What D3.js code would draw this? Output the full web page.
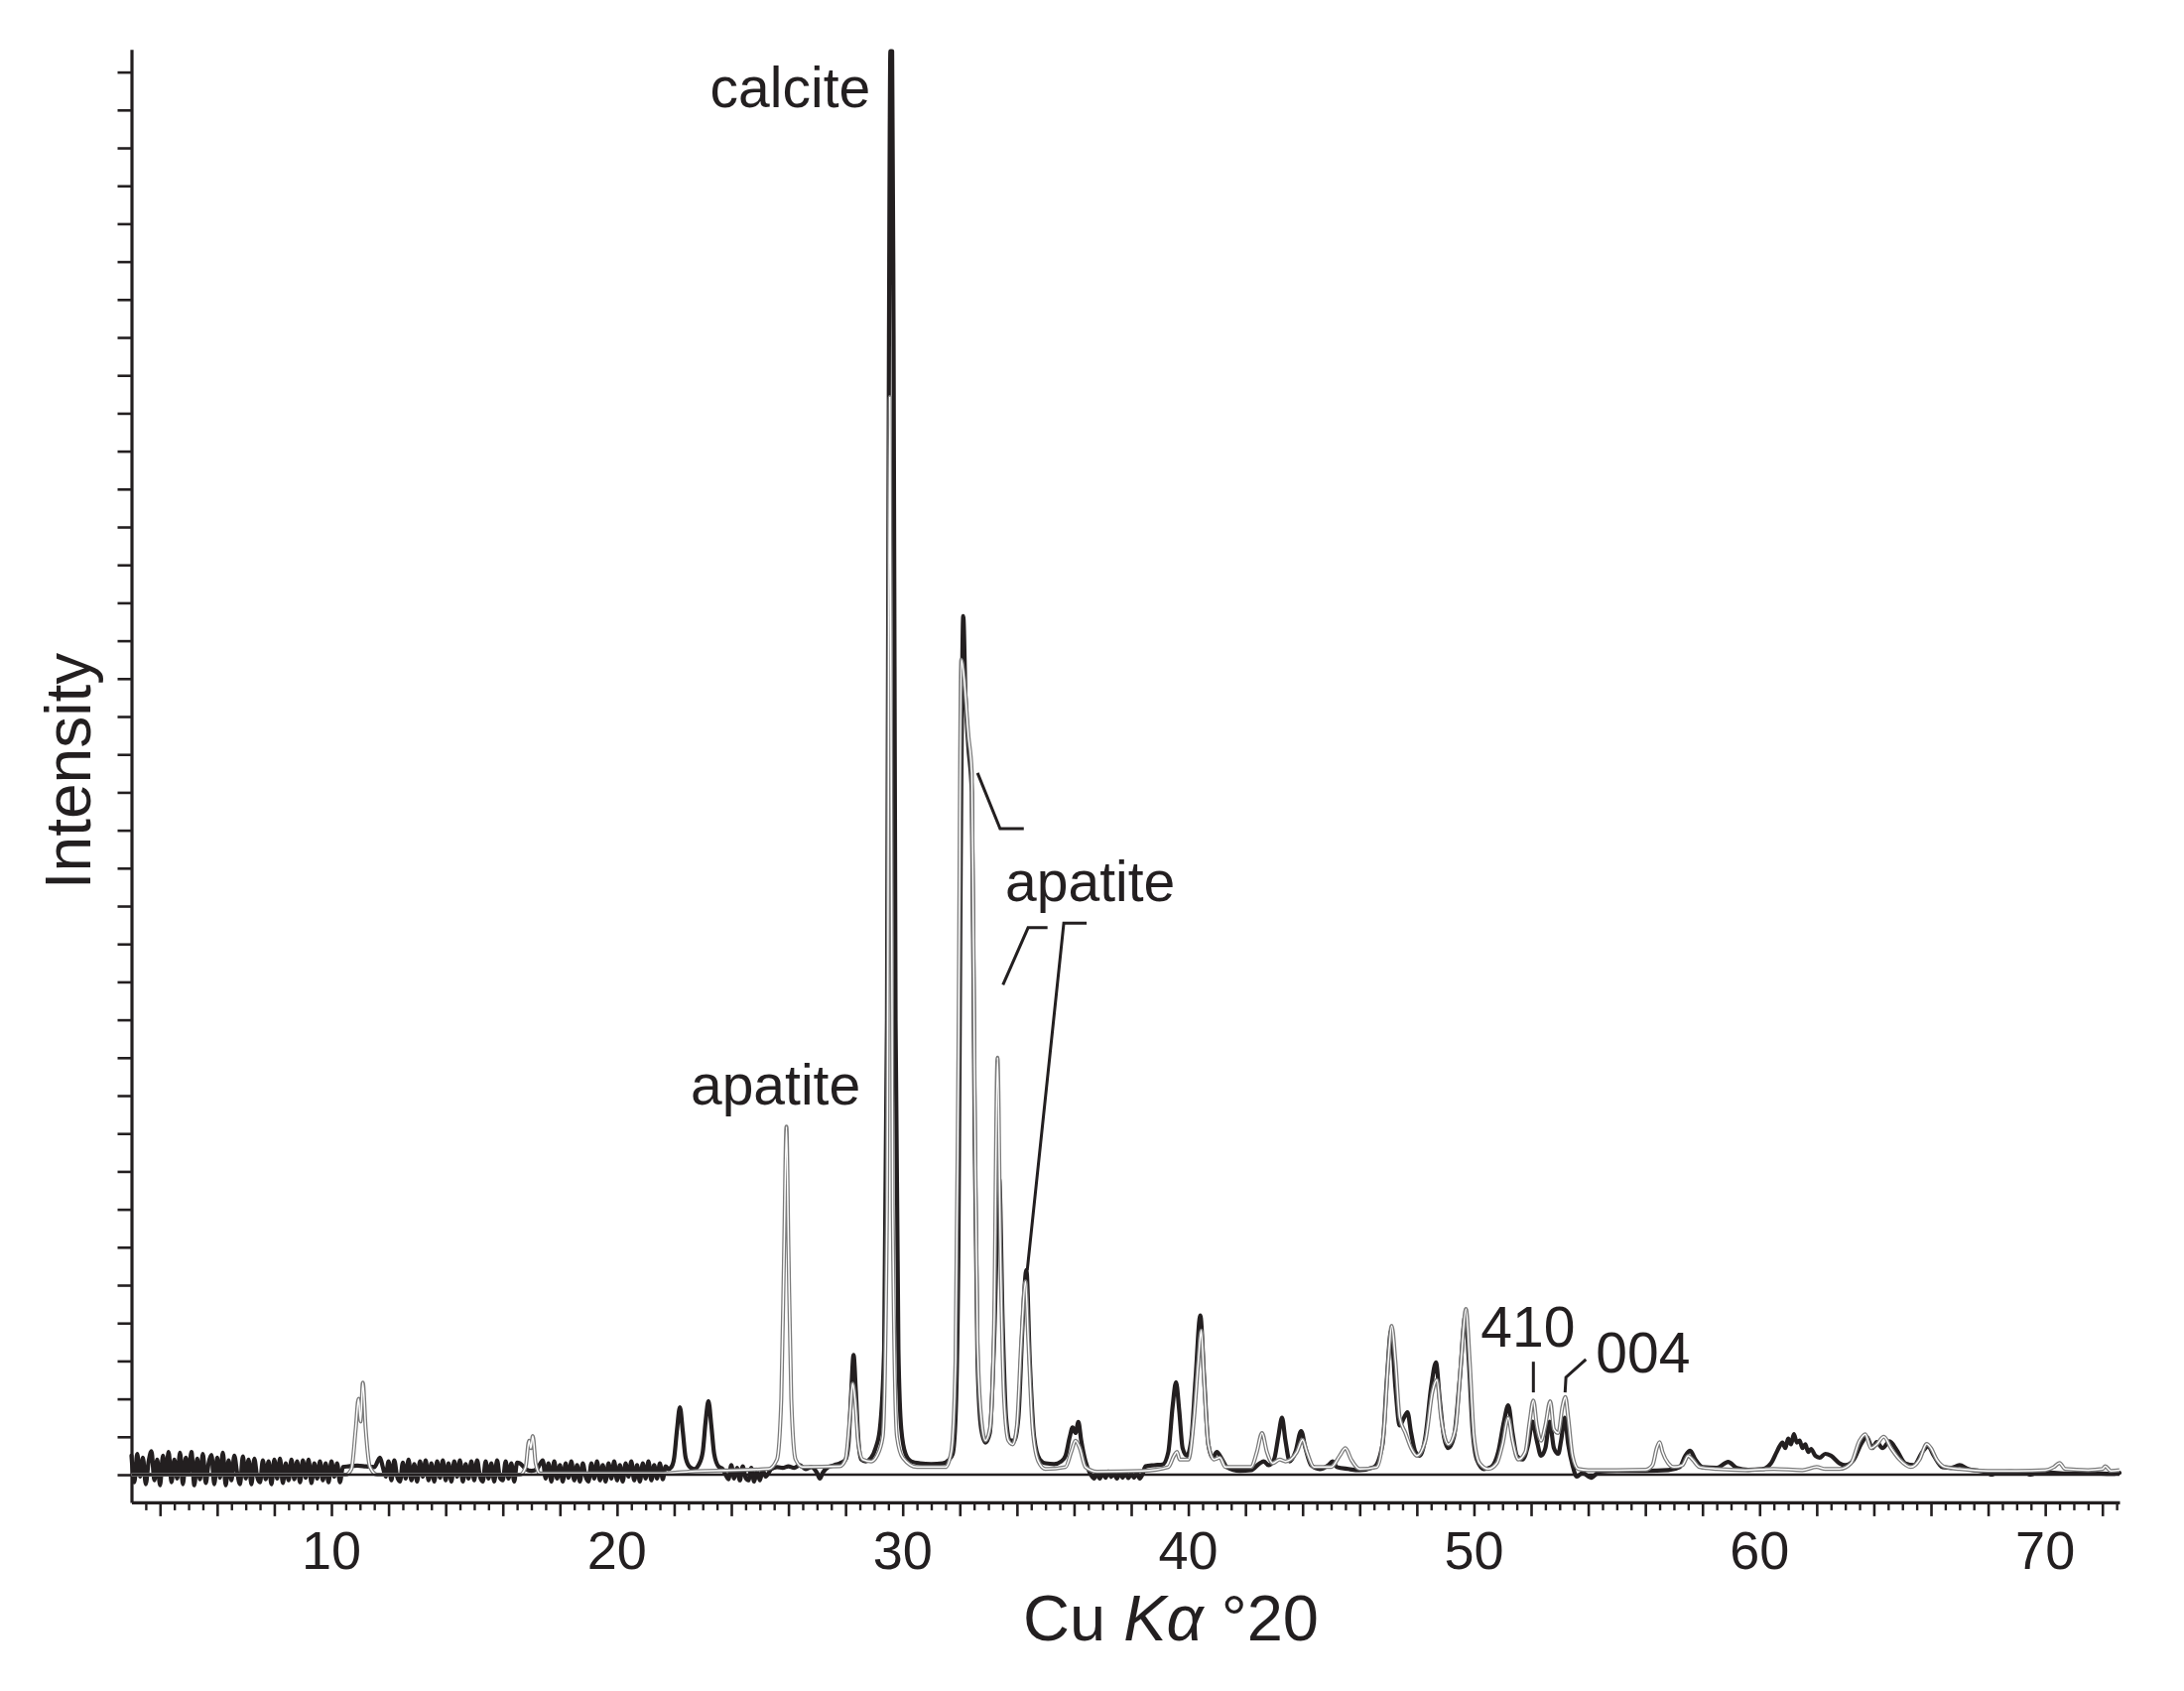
<!DOCTYPE html>
<html>
<head>
<meta charset="utf-8">
<script src="https://cdn.jsdelivr.net/npm/d3@7/dist/d3.min.js"></script>
<style>
  html, body { margin: 0; padding: 0; background: #ffffff; }
  svg { display: block; }
  text { font-family: "Liberation Sans", Arial, Helvetica, sans-serif; fill: #231f20; }
</style>
</head>
<body>
<svg id="chart" width="2201" height="1704"></svg>
<script>
// ---------------- DATA ----------------
// x: Cu Kα °2θ, y: intensity (counts, one left-axis tick = 100)
const xTickLabels = [10, 20, 30, 40, 50, 60, 70];

// thick black pattern
const blackPattern = [
[3.0,50],[3.1,-20],[3.2,55],[3.3,-5],[3.4,45],[3.5,-25],[3.6,35],[3.7,62],[3.8,-15],[3.9,40],
[4.0,-28],[4.1,50],[4.2,0],[4.3,60],[4.4,-20],[4.5,40],[4.6,-10],[4.7,58],[4.8,-25],[4.9,45],
[5.0,5],[5.1,60],[5.2,-28],[5.3,42],[5.4,-12],[5.5,55],[5.6,-22],[5.7,30],[5.8,52],[5.9,-25],
[6.0,45],[6.1,-8],[6.2,58],[6.3,-28],[6.4,38],[6.5,-15],[6.6,50],[6.7,5],[6.8,-25],[6.9,48],
[7.0,-10],[7.1,40],[7.2,-25],[7.3,42],[7.4,-5],[7.5,-20],[7.6,38],[7.7,-12],[7.8,35],[7.9,-25],
[8.0,40],[8.1,-10],[8.2,42],[8.3,-22],[8.4,30],[8.5,-15],[8.6,40],[8.7,-12],[8.8,35],[8.9,-20],
[9.0,38],[9.1,-8],[9.2,40],[9.3,-22],[9.4,30],[9.5,-10],[9.6,35],[9.7,-15],[9.8,30],[9.9,-20],
[10.0,35],[10.1,-5],[10.2,30],[10.3,-20],[10.4,20],[10.6,22],[10.9,24],[11.2,22],[11.5,20],
[11.7,45],[11.8,20],[11.9,-5],
[12.0,35],[12.1,-15],[12.2,38],[12.3,-5],[12.4,-18],[12.5,32],[12.6,-10],[12.7,40],[12.8,-15],[12.9,28],
[13.0,-18],[13.1,35],[13.2,-5],[13.3,38],[13.4,-15],[13.5,30],[13.6,-18],[13.7,35],[13.8,-8],[13.9,38],
[14.0,-15],[14.1,30],[14.2,-18],[14.3,35],[14.4,-5],[14.5,38],[14.6,-18],[14.7,28],[14.8,-10],[14.9,35],
[15.0,-15],[15.1,38],[15.2,-5],[15.3,-18],[15.4,35],[15.5,-10],[15.6,30],[15.7,-18],[15.8,38],[15.9,-8],
[16.0,-15],[16.1,35],[16.2,-10],[16.3,30],[16.4,-18],[16.5,32],[16.6,30],[16.8,15],[17.0,10],[17.2,15],
[17.4,38],[17.5,-10],[17.6,30],[17.7,-18],[17.8,35],[17.9,-10],[18.0,25],[18.1,-18],[18.2,30],[18.3,-8],
[18.4,35],[18.5,-15],[18.6,25],[18.7,-18],[18.8,30],[18.9,-5],[19.0,-18],[19.1,30],[19.2,-10],[19.3,35],
[19.4,-15],[19.5,25],[19.6,-18],[19.7,30],[19.8,-10],[19.9,35],[20.0,-15],[20.1,25],[20.2,-18],[20.3,30],
[20.4,-5],[20.5,35],[20.6,-15],[20.7,25],[20.8,-18],[20.9,30],[21.0,-10],[21.1,35],[21.2,-15],[21.3,25],
[21.4,-10],[21.5,30],[21.6,-12],[21.7,22],[21.8,15],
[21.9,20],[22.0,45],[22.1,120],[22.2,178],[22.3,115],[22.4,45],[22.55,20],[22.7,15],[22.85,25],
[23.0,60],[23.1,140],[23.2,194],[23.3,130],[23.4,55],[23.55,22],[23.7,15],
[23.8,0],[23.9,-12],[24.0,25],[24.1,-10],[24.2,18],[24.3,-15],[24.4,22],[24.5,-8],[24.6,-15],[24.7,18],
[24.8,-18],[24.9,10],[25.0,-15],[25.1,12],[25.2,-5],[25.4,15],[25.6,20],[25.8,18],[26.0,22],[26.2,18],
[26.4,25],[26.6,15],[26.8,20],[27.0,5],[27.1,-10],[27.2,5],[27.4,20],[27.6,25],[27.8,30],
[28.0,40],[28.1,80],[28.2,220],[28.28,316],[28.36,220],[28.45,90],[28.55,40],[28.7,35],[28.9,45],
[29.05,70],[29.2,120],[29.35,330],[29.45,1200],[29.52,3000],[29.57,3755],[29.63,3755],[29.68,3000],
[29.75,1200],[29.85,330],[29.95,120],[30.1,55],[30.3,35],[30.6,30],[31.0,28],[31.4,30],[31.6,38],
[31.75,55],[31.85,150],[31.95,600],[32.03,1600],[32.12,2265],[32.2,2050],[32.3,1920],[32.42,1800],
[32.52,900],[32.62,300],[32.75,120],[32.9,85],[33.05,110],[33.2,350],[33.38,780],[33.5,400],
[33.62,150],[33.75,90],[33.9,90],[34.05,150],[34.2,400],[34.33,540],[34.45,300],[34.6,100],
[34.8,40],[35.0,30],[35.3,28],[35.55,35],[35.7,50],[35.85,100],[35.95,125],[36.05,110],[36.15,139],
[36.25,90],[36.4,35],[36.55,5],[36.7,-10],[36.8,5],[36.9,-10],[37.0,6],[37.1,-8],[37.2,8],[37.3,-6],
[37.4,5],[37.5,-10],[37.6,6],[37.7,-8],[37.8,7],[37.9,-9],[38.0,4],[38.1,-8],[38.2,5],[38.3,-10],
[38.4,2],[38.5,22],[38.8,25],[39.1,27],[39.3,60],[39.45,180],[39.57,244],[39.68,170],[39.8,70],
[39.95,50],[40.1,90],[40.25,250],[40.42,420],[40.55,260],[40.7,80],[40.85,45],[41.0,60],[41.15,45],
[41.35,20],[41.8,10],[42.2,12],[42.5,30],[42.65,35],[42.8,25],[43.0,40],[43.15,100],[43.28,150],
[43.4,90],[43.55,35],[43.75,60],[43.95,115],[44.1,70],[44.3,25],[44.6,15],[44.9,25],[45.05,35],
[45.2,20],[45.6,15],[46.0,12],[46.5,20],[46.8,80],[46.95,250],[47.1,380],[47.25,230],[47.4,130],
[47.55,150],[47.67,165],[47.8,110],[47.95,60],[48.1,50],[48.3,100],[48.5,230],[48.67,296],[48.8,200],
[48.95,100],[49.1,70],[49.3,100],[49.5,250],[49.7,420],[49.82,300],[49.95,120],[50.1,40],[50.35,15],
[50.6,20],[50.85,60],[51.05,140],[51.2,183],[51.35,110],[51.5,50],[51.7,40],[51.9,80],[52.05,140],
[52.2,90],[52.35,50],[52.5,70],[52.65,140],[52.8,70],[52.95,55],[53.05,90],[53.18,150],[53.3,80],
[53.45,25],[53.6,-5],[53.8,5],[54.1,-8],[54.4,8],[55.0,10],[56.0,10],[56.8,12],[57.2,20],[57.4,50],
[57.57,63],[57.75,40],[58.0,20],[58.5,18],[58.9,34],[59.2,18],[59.6,13],[60.1,15],[60.4,30],
[60.6,60],[60.7,75],[60.8,85],[60.9,70],[61.0,95],[61.1,80],[61.2,107],[61.3,85],[61.4,90],[61.5,70],
[61.6,80],[61.7,60],[61.8,68],[61.95,50],[62.1,45],[62.3,55],[62.5,50],[62.8,30],[63.0,25],[63.3,40],
[63.55,80],[63.75,100],[63.95,70],[64.1,86],[64.3,70],[64.55,88],[64.8,65],[65.1,30],[65.4,25],
[65.7,60],[65.9,75],[66.1,50],[66.4,20],[66.7,18],[67.0,25],[67.3,15],[67.7,10],[68.0,5],[68.1,0],
[68.3,5],[68.8,8],[69.3,5],[69.5,0],[69.8,8],[70.3,5],[70.8,3],[71.3,6],[71.8,4],[72.3,2],[72.6,5]
];

// thin grey (outlined) pattern
const greyPattern = [
[3.0,0],[10.5,0],[10.7,15],[10.85,120],[10.95,200],[11.02,140],[11.1,243],[11.2,120],[11.35,20],
[11.6,0],[16.6,0],[16.8,20],[16.92,90],[16.98,70],[17.05,102],[17.15,30],[17.3,3],[21.5,3],[22.5,8],
[25.3,15],[25.6,40],[25.75,200],[25.85,600],[25.93,918],[26.0,600],[26.1,200],[26.25,40],[26.5,20],
[27.8,22],[28.0,40],[28.15,150],[28.25,240],[28.33,200],[28.45,80],[28.6,40],[28.9,35],[29.1,50],
[29.3,100],[29.45,700],[29.55,2843],[29.65,700],[29.8,100],[30.0,45],[30.5,20],[31.5,20],[31.7,60],
[31.85,300],[31.95,1100],[32.05,2150],[32.15,2100],[32.3,1950],[32.42,1850],[32.52,1000],[32.62,350],
[32.75,150],[32.9,90],[33.05,120],[33.2,400],[33.32,1100],[33.42,600],[33.55,200],[33.7,90],
[33.85,80],[34.0,130],[34.15,350],[34.3,510],[34.4,350],[34.55,120],[34.75,35],[35.0,15],[35.7,20],
[35.9,60],[36.05,90],[36.2,70],[36.4,20],[36.8,8],[38.4,10],[39.3,20],[39.5,50],[39.6,60],[39.7,40],
[40.0,40],[40.2,150],[40.35,300],[40.45,380],[40.55,250],[40.7,80],[40.9,40],[41.1,45],[41.3,20],
[42.2,20],[42.4,60],[42.58,110],[42.75,60],[42.95,30],[43.2,40],[43.4,35],[43.8,60],[44.0,92],
[44.15,60],[44.4,20],[45.0,20],[45.3,50],[45.5,70],[45.7,40],[46.0,15],[46.6,20],[46.85,120],
[47.0,300],[47.12,393],[47.25,300],[47.4,150],[47.6,110],[47.8,70],[48.0,50],[48.3,90],[48.55,220],
[48.7,250],[48.85,150],[49.1,80],[49.35,120],[49.55,300],[49.72,437],[49.85,300],[50.0,100],
[50.2,30],[50.5,15],[50.8,30],[51.0,80],[51.2,150],[51.35,90],[51.55,40],[51.8,60],[51.95,140],
[52.08,196],[52.2,130],[52.35,90],[52.5,130],[52.67,194],[52.8,120],[52.95,110],[53.1,180],
[53.2,205],[53.3,150],[53.45,50],[53.65,15],[54.0,12],[55.0,12],[56.0,13],[56.25,25],[56.4,70],
[56.5,86],[56.6,60],[56.8,30],[57.0,20],[57.3,25],[57.5,50],[57.65,40],[57.9,20],[58.5,15],
[59.5,12],[60.5,15],[61.5,12],[62.0,20],[62.3,15],[62.8,15],[63.2,30],[63.5,90],[63.7,107],
[63.9,70],[64.1,80],[64.35,100],[64.6,70],[64.9,40],[65.3,20],[65.6,40],[65.85,81],[66.0,70],
[66.2,40],[66.5,20],[67.0,15],[68.0,10],[69.0,10],[70.0,12],[70.3,20],[70.5,31],[70.7,15],
[71.5,12],[72.0,15],[72.1,22],[72.3,10],[72.6,12]
];

// peak annotations (°2θ, counts)
const peakLabelText   = ["calcite", "apatite", "apatite", "410", "004"];
const peakLabelTheta  = [28.87, 28.52, 33.59, 50.24, 54.27];
const peakLabelCounts = [3607, 976, 1513, 338, 270];
const peakLabelAlign  = ["end", "end", "start", "start", "start"];

// leader lines (°2θ, counts)
const leaderLines = [
  [[32.62,1851],[33.41,1704],[34.24,1704]],
  [[33.51,1292],[34.39,1443],[35.07,1443]],
  [[34.36,539],[35.64,1455],[36.44,1455]],
  [[52.08,298],[52.08,217]],
  [[53.92,304],[53.22,257],[53.19,217]]
];

// ---------------- CHART ----------------
const svg = d3.select("#chart");
const ink = "#231f20";

const x = d3.scaleLinear().domain([3, 72.6]).range([132.5, 2136]);
const y = d3.scaleLinear().domain([-73, 3760]).range([1513.9, 49.7]);

svg.append("rect").attr("width", 2201).attr("height", 1704).attr("fill", "#fff");

// left axis
const yTicks = d3.range(0, 3701, 100);
const gy = svg.append("g")
  .attr("transform", `translate(${x(3)},0)`)
  .call(d3.axisLeft(y).tickValues(yTicks).tickSize(14).tickSizeOuter(0).tickFormat(""));
gy.select(".domain").attr("stroke", ink).attr("stroke-width", 3.2);
gy.selectAll(".tick line").attr("stroke", ink).attr("stroke-width", 2.6);

// bottom axis: minor ticks every 0.5°, major every 2°
const minorTicks = d3.range(3.5, 72.6, 0.5).filter(v => Math.abs(v / 2 - Math.round(v / 2)) > 1e-6);
const majorTicks = d3.range(4, 72.6, 2);
const gxMinor = svg.append("g")
  .attr("transform", `translate(0,${y(-73)})`)
  .call(d3.axisBottom(x).tickValues(minorTicks).tickSize(8).tickSizeOuter(0).tickFormat(""));
gxMinor.select(".domain").remove();
gxMinor.selectAll(".tick line").attr("stroke", ink).attr("stroke-width", 2.4);
const gx = svg.append("g")
  .attr("transform", `translate(0,${y(-73)})`)
  .call(d3.axisBottom(x).tickValues(majorTicks).tickSize(14).tickSizeOuter(0).tickFormat(""));
gx.select(".domain").attr("stroke", ink).attr("stroke-width", 3.2);
gx.selectAll(".tick line").attr("stroke", ink).attr("stroke-width", 2.6);

svg.append("g").selectAll("text").data(xTickLabels).join("text")
  .attr("x", d => x(d)).attr("y", 1581)
  .attr("text-anchor", "middle").attr("font-size", 54)
  .text(d => d);

// axis titles
const xt = svg.append("text").attr("x", 1180).attr("y", 1653)
  .attr("text-anchor", "middle").attr("font-size", 65);
xt.append("tspan").text("Cu ");
xt.append("tspan").attr("font-style", "italic").text("Kα");
xt.append("tspan").text(" °20");

svg.append("text")
  .attr("transform", "translate(91,777) rotate(-90)")
  .attr("text-anchor", "middle").attr("font-size", 64)
  .text("Intensity");

// patterns
const line = d3.line().x(d => x(d[0])).y(d => y(d[1])).curve(d3.curveMonotoneX);

svg.append("path").datum(blackPattern)
  .attr("d", line).attr("fill", "none")
  .attr("stroke", ink).attr("stroke-width", 4.2)
  .attr("stroke-linejoin", "round").attr("stroke-linecap", "round");

svg.append("path").datum(greyPattern)
  .attr("d", line).attr("fill", "none")
  .attr("stroke", "#7a7a7a").attr("stroke-width", 4)
  .attr("stroke-linejoin", "round");
svg.append("path").datum(greyPattern)
  .attr("d", line).attr("fill", "none")
  .attr("stroke", "#ffffff").attr("stroke-width", 1.5)
  .attr("stroke-linejoin", "round");

// zero line
svg.append("line")
  .attr("x1", x(3)).attr("x2", x(72.6))
  .attr("y1", y(0)).attr("y2", y(0))
  .attr("stroke", ink).attr("stroke-width", 2.6);

// leaders
const leaderLine = d3.line().x(d => x(d[0])).y(d => y(d[1]));
svg.append("g").selectAll("path").data(leaderLines).join("path")
  .attr("d", leaderLine).attr("fill", "none")
  .attr("stroke", ink).attr("stroke-width", 3);

// labels
svg.append("g").selectAll("text").data(peakLabelText).join("text")
  .attr("x", (d, i) => x(peakLabelTheta[i]))
  .attr("y", (d, i) => y(peakLabelCounts[i]))
  .attr("text-anchor", (d, i) => peakLabelAlign[i])
  .attr("font-size", 57)
  .text(d => d);
</script>
</body>
</html>
